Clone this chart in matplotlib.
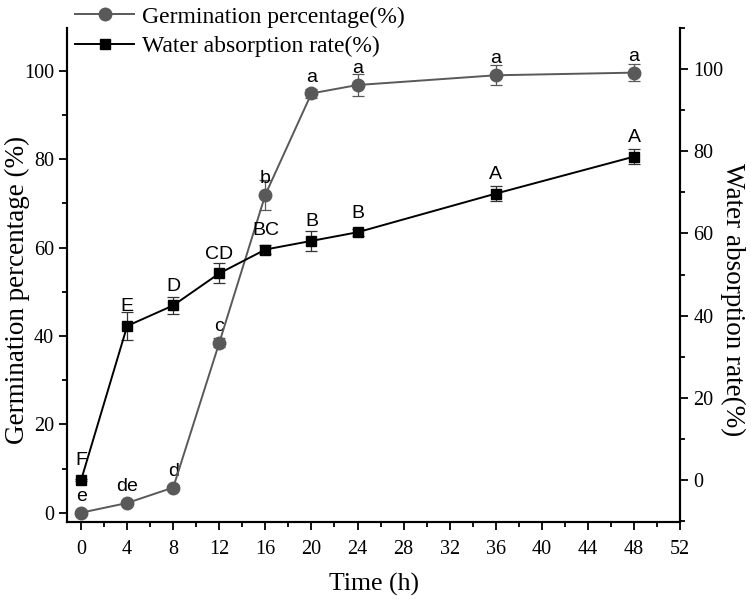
import matplotlib
matplotlib.use("Agg")
import matplotlib.pyplot as plt
from matplotlib.ticker import MultipleLocator

plt.rcParams['font.family'] = ['Liberation Serif', 'DejaVu Serif']

# data
time_h = [0, 4, 8, 12, 16, 20, 24, 36, 48]
germ = [0, 2.2, 5.7, 38.5, 72.0, 94.9, 96.8, 99.0, 99.6]
germ_err = [0.3, 0.5, 0.6, 1.0, 3.4, 1.0, 2.6, 2.3, 2.0]
germ_letters = ['e', 'de', 'd', 'c', 'b', 'a', 'a', 'a', 'a']
water = [0, 37.5, 42.5, 50.3, 56.1, 58.2, 60.3, 69.7, 78.7]
water_err = [0.3, 3.4, 2.0, 2.4, 1.0, 2.4, 0.8, 1.8, 1.8]
water_letters = ['F', 'E', 'D', 'CD', 'BC', 'B', 'B', 'A', 'A']

gray = '#595959'

fig = plt.figure(figsize=(7.51, 6.05), dpi=100)
ax = fig.add_axes([0.0896, 0.1372, 0.8159, 0.8165])
ax2 = ax.twinx()

l1 = ax.errorbar(time_h, germ, yerr=germ_err, color=gray, marker='o', markersize=9,
                 lw=1.4, ecolor=gray, elinewidth=0.9, capsize=4, capthick=0.9, zorder=3)
l2 = ax2.errorbar(time_h, water, yerr=water_err, color='black', marker='s', markersize=7.5,
                  lw=1.4, ecolor='#333333', elinewidth=0.9, capsize=4, capthick=0.9, zorder=3)

for t, v, s in zip(time_h, germ, germ_letters):
    ax.annotate(s, (t, v), xytext=(0, 8.5), textcoords='offset points', ha='center',
                va='baseline', fontsize=14, family=['Liberation Sans'])
for t, v, s in zip(time_h, water, water_letters):
    ax2.annotate(s, (t, v), xytext=(0, 10.5), textcoords='offset points', ha='center',
                 va='baseline', fontsize=14, family=['Liberation Sans'])

ax.set_xlim(-1.2, 52)
ax.set_ylim(-2.1, 109.7)
ax2.set_ylim(-10.2, 110)

ax.xaxis.set_major_locator(MultipleLocator(4))
ax.xaxis.set_minor_locator(MultipleLocator(2))
ax.yaxis.set_minor_locator(MultipleLocator(10))
ax2.yaxis.set_minor_locator(MultipleLocator(10))
ax.set_yticks([0, 20, 40, 60, 80, 100])
ax2.set_yticks([0, 20, 40, 60, 80, 100])

for a in (ax, ax2):
    a.spines['top'].set_visible(False)
    for sp in ('left', 'right', 'bottom'):
        a.spines[sp].set_linewidth(1.5)
    a.tick_params(which='major', direction='out', length=6, width=1.3, labelsize=14.5)
    a.tick_params(which='minor', direction='out', length=3.5, width=1.3)
ax.tick_params(axis='x', which='major', pad=7)

ax.set_xlabel('Time (h)', fontsize=18.5, va='center', ha='center')
ax.xaxis.set_label_coords(0.5006, -0.1255)
ax.set_ylabel('Germination percentage (%)', fontsize=19.5, va='center', ha='center')
ax.yaxis.set_label_coords(-0.082, 0.47)
ax2.set_ylabel('Water absorption rate(%)', fontsize=19.5, rotation=270,
               va='center', ha='center')
ax2.yaxis.set_label_coords(1.085, 0.45)

fig.legend([l1[0], l2[0]], ['Germination percentage(%)', 'Water absorption rate(%)'],
           loc='upper left', bbox_to_anchor=(0.1, 0.99), frameon=False,
           fontsize=17, borderpad=0, borderaxespad=0, handlelength=2.5,
           handletextpad=0.35, labelspacing=0.35)

plt.savefig('out.png', dpi=100)
plt.close()
